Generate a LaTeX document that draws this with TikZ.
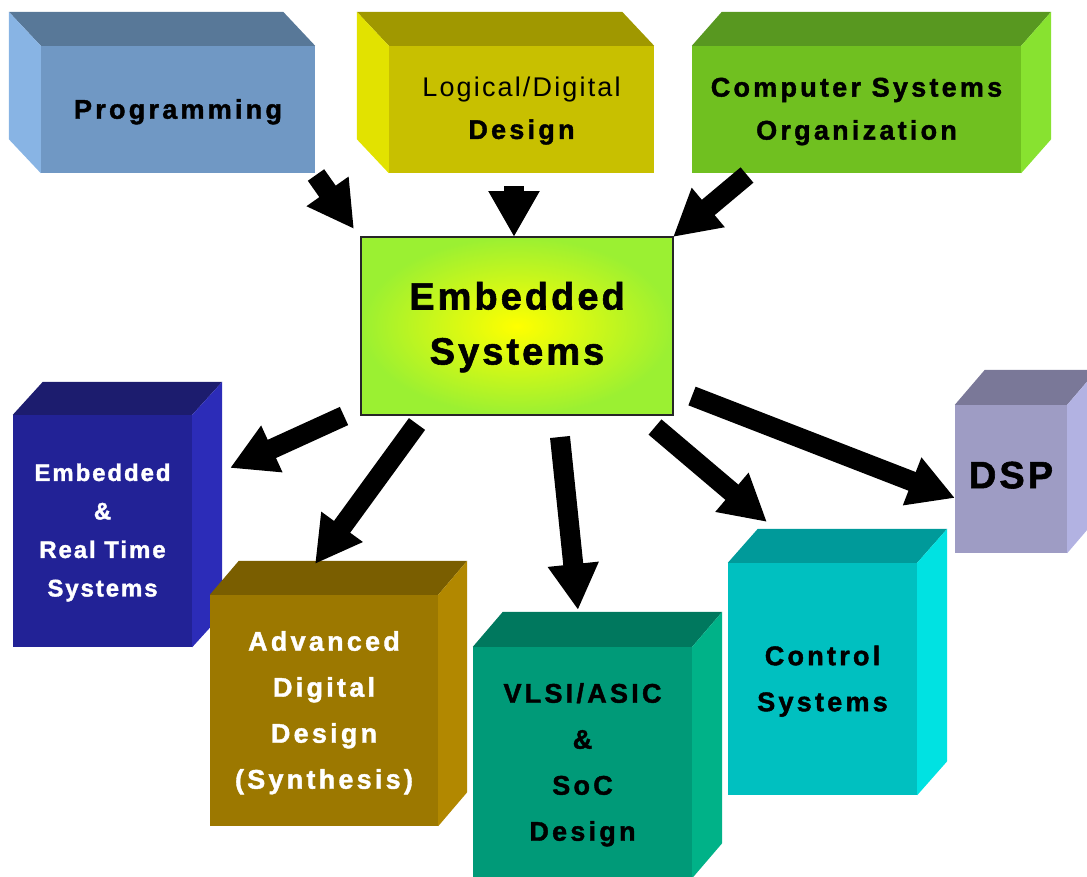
\documentclass[tikz,border=0pt]{standalone}
\usepackage{fontspec}
\setmainfont{Liberation Sans}
\newfontfamily\boxfont{Liberation Sans}[LetterSpace=12, BoldFeatures={FakeBold=1.5}]
\newfontfamily\boxfontn{Liberation Sans}[LetterSpace=8, BoldFeatures={FakeBold=1.5}]
\usetikzlibrary{arrows.meta}
\definecolor{progF}{RGB}{112,152,196}\definecolor{progT}{RGB}{88,120,152}\definecolor{progS}{RGB}{136,180,228}
\definecolor{logF}{RGB}{200,192,0}\definecolor{logT}{RGB}{160,152,0}\definecolor{logS}{RGB}{226,226,0}
\definecolor{csoF}{RGB}{112,192,32}\definecolor{csoT}{RGB}{88,152,32}\definecolor{csoS}{RGB}{136,226,48}
\definecolor{ertF}{RGB}{34,34,150}\definecolor{ertT}{RGB}{28,28,110}\definecolor{ertS}{RGB}{44,44,184}
\definecolor{advF}{RGB}{156,120,0}\definecolor{advT}{RGB}{122,94,0}\definecolor{advS}{RGB}{178,136,0}
\definecolor{vlsiF}{RGB}{0,154,120}\definecolor{vlsiT}{RGB}{0,120,94}\definecolor{vlsiS}{RGB}{0,178,136}
\definecolor{ctrlF}{RGB}{0,192,192}\definecolor{ctrlT}{RGB}{0,154,154}\definecolor{ctrlS}{RGB}{0,226,226}
\definecolor{dspF}{RGB}{158,156,196}\definecolor{dspT}{RGB}{122,120,152}\definecolor{dspS}{RGB}{178,178,226}
\definecolor{esOut}{RGB}{155,240,50}\definecolor{esIn}{RGB}{255,255,0}
% text lines, centred, spaced by the current baselineskip
\newcommand\tlines[1]{\raisebox{-2.5pt}{\begin{tabular}{@{}c@{}}#1\end{tabular}}}
% sides of a block whose depth goes up-left
\newcommand\sidesleft[5]{%
  \fill[#4] (#1.north west) -- ++(#2,#3) -- ([shift={(#2,#3)}]#1.north east) -- (#1.north east) -- cycle;
  \fill[#5] (#1.north west) -- ++(#2,#3) -- ([shift={(#2,#3)}]#1.south west) -- (#1.south west) -- cycle;}
% sides of a block whose depth goes up-right
\newcommand\sidesright[5]{%
  \fill[#4] (#1.north west) -- ++(#2,#3) -- ([shift={(#2,#3)}]#1.north east) -- (#1.north east) -- cycle;
  \fill[#5] (#1.north east) -- ++(#2,#3) -- ([shift={(#2,#3)}]#1.south east) -- (#1.south east) -- cycle;}
\begin{document}
\begin{tikzpicture}[x=1pt,y=-1pt,
  face/.style={draw=none, inner sep=0pt,
    font=\boxfont\bfseries\fontsize{27}{46}\selectfont},
  bigarrow/.style={line width=20pt, -{Triangle[length=46pt,width=48pt]}}]
\useasboundingbox (0,0) rectangle (1087,876);
\clip (0,0) rectangle (1087,876);

% top row
\node[face, fill=progF, minimum width=274pt, minimum height=127pt] (prog) at (178,109.5)
  {\tlines{Programming}};
\sidesleft{prog}{-32}{-34}{progT}{progS}
\node[face, fill=logF, minimum width=265pt, minimum height=127pt,
  font=\boxfont\bfseries\fontsize{27}{42}\selectfont] (logic) at (521.5,109.5)
  {\tlines{{\boxfontn\mdseries Logical/Digital}\\Design}};
\sidesleft{logic}{-32}{-34}{logT}{logS}
\node[face, fill=csoF, minimum width=329pt, minimum height=127pt,
  font=\boxfont\bfseries\fontsize{27}{43}\selectfont] (cso) at (856.5,109.5)
  {\tlines{Computer Systems\\Organization}};
\sidesright{cso}{30}{-34}{csoT}{csoS}

% centre
\shade[inner color=esIn, outer color=esOut] (361,237) rectangle (673,415);
\node[draw=black!85, line width=1.5pt, minimum width=312pt, minimum height=178pt, inner sep=0pt,
  font=\boxfontn\bfseries\fontsize{38}{55}\selectfont] (es) at (517,326)
  {\tlines{Embedded\\Systems}};

% bottom row
\node[face, fill=ertF, text=white, minimum width=179pt, minimum height=232pt,
  font=\boxfontn\bfseries\fontsize{24}{38.5}\selectfont] (ert) at (102.5,531)
  {\tlines{Embedded\\\&\\Real Time\\Systems}};
\sidesright{ert}{30}{-33}{ertT}{ertS}
\node[face, fill=advF, text=white, minimum width=228pt, minimum height=231pt] (adv) at (324,710.5)
  {\tlines{Advanced\\Digital\\Design\\(Synthesis)}};
\sidesright{adv}{29}{-34}{advT}{advS}
\node[face, fill=vlsiF, minimum width=219pt, minimum height=231pt] (vlsi) at (582.5,762.5)
  {\tlines{VLSI/ASIC\\\&\\SoC\\Design}};
\sidesright{vlsi}{30}{-35}{vlsiT}{vlsiS}
\node[face, fill=ctrlF, minimum width=189pt, minimum height=232pt] (ctrl) at (822.5,679)
  {\tlines{Control\\Systems}};
\sidesright{ctrl}{30}{-34}{ctrlT}{ctrlS}
\node[face, fill=dspF, minimum width=112pt, minimum height=148pt,
  font=\boxfontn\bfseries\fontsize{38}{46}\selectfont] (dsp) at (1011,479) {\tlines{DSP}};
\sidesright{dsp}{30}{-35}{dspT}{dspS}

% arrow end points
\coordinate (a1s) at (316,175); \coordinate (a1e) at (354,229);
\coordinate (a2s) at (514,186); \coordinate (a2e) at (514,237);
\coordinate (a3s) at (747,175); \coordinate (a3e) at (673,237);
\coordinate (a4s) at (344,416); \coordinate (a4e) at (230,468);
\coordinate (a5s) at (417,424); \coordinate (a5e) at (315,564);
\coordinate (a6s) at (560,437); \coordinate (a6e) at (578,610);
\coordinate (a7s) at (655,427); \coordinate (a7e) at (767,522);
\coordinate (a8s) at (692,396); \coordinate (a8e) at (955,498);

\draw[bigarrow] (a1s) -- (a1e);
\draw[bigarrow] (a2s) -- (a2e);
\draw[bigarrow] (a3s) -- (a3e);
\draw[bigarrow] (a4s) -- (a4e);
\draw[bigarrow] (a5s) -- (a5e);
\draw[bigarrow] (a6s) -- (a6e);
\draw[bigarrow] (a7s) -- (a7e);
\draw[bigarrow] (a8s) -- (a8e);
\end{tikzpicture}
\end{document}
